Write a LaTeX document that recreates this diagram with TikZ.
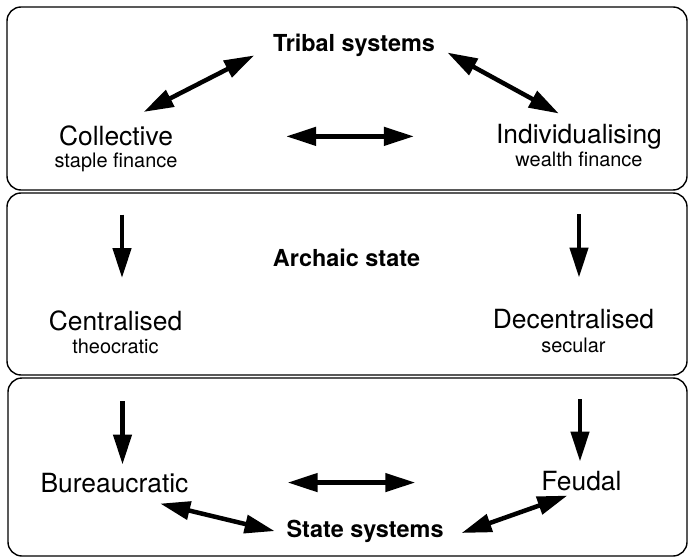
\documentclass[tikz,border=0pt]{standalone}
\usepackage{fontspec}
\setmainfont{TeX Gyre Heros}
\usetikzlibrary{positioning}
\usetikzlibrary{arrows.meta}

\begin{document}
\begin{tikzpicture}[x=1bp, y=-1bp,
        band/.style={draw, line width=1.4bp, rounded corners=14bp},
        term/.style={inner sep=0pt, anchor=base, font=\fontsize{26.5}{30}\selectfont},
        sub/.style={inner sep=0pt, font=\fontsize{20}{24}\selectfont},
        head/.style={inner sep=0pt, anchor=base, font=\fontsize{23.5}{28}\selectfont\bfseries},
        both/.style={line width=4.5bp, {Triangle[length=30bp,width=18bp]}-{Triangle[length=30bp,width=18bp]}},
        down/.style={line width=4.5bp, -{Triangle[length=30bp,width=18bp]}}]
        \useasboundingbox (0,0) rectangle (688,558);

        % tribal systems
        \draw [band] (7,7) rectangle (687,190);
        \node [head] (tribal) at (354,52) {Tribal systems};
        \node [term] (coll) at (116,146) {Collective};
        \node [sub, below=6.5bp of coll] (staple) {staple finance};
        \node [term] (indiv) at (579,144) {Individualising};
        \node [sub, below=2bp of indiv] (wealth) {wealth finance};

        \draw [both, shorten <=31bp, shorten >=21bp] (coll.north) -- (tribal.west);
        \draw [both, shorten <=14bp, shorten >=23bp] (tribal.east) -- (indiv.north);
        \draw [both, shorten <=113bp, shorten >=82bp] (coll.east) -- (coll.east -| indiv.west);

        % archaic state
        \draw [band] (7,193) rectangle (687,375);
        \node [head] (archaic) at (346.5,267) {Archaic state};
        \node [term] (cent) at (115.5,330) {Centralised};
        \node [sub, below=8bp of cent] (theo) {theocratic};
        \node [term] (decent) at (573.5,328) {Decentralised};
        \node [sub, below=9bp of decent] (secular) {secular};

        \draw [down, shorten <=42bp, shorten >=32bp] ([xshift=6bp]staple.south) -- ([xshift=6bp]staple.south |- cent.north);
        \draw [down, shorten <=47bp, shorten >=31bp] (wealth.south) -- (wealth.south |- decent.north);

        % state systems
        \draw [band] (8,378) rectangle (687,556);
        \node [term] (bur) at (114.5,492) {Bureaucratic};
        \node [term] (feud) at (581.5,490) {Feudal};
        \node [head] (state) at (365,537) {State systems};

        \draw [down, shorten <=47.5bp, shorten >=8bp] ([xshift=7bp]theo.south) -- ([xshift=7bp]theo.south |- bur.north);
        \draw [down, shorten <=46.5bp, shorten >=9bp] ([xshift=6.5bp]secular.south) -- ([xshift=6.5bp]secular.south |- feud.north);

        \draw [both, shorten <=99bp, shorten >=126bp] (bur.east) -- (bur.east -| feud.west);
        \draw [both, shorten <=47bp, shorten >=12bp] (bur.south) -- ([yshift=-3bp]state.west);
        \draw [both, shorten <=19bp, shorten >=15bp] ([yshift=3bp]state.south east) -- (feud.south);
\end{tikzpicture}
\end{document}
